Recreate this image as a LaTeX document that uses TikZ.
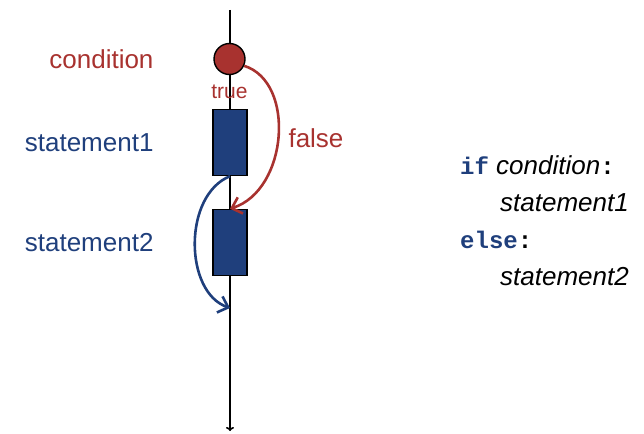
\documentclass[tikz,border=0pt]{standalone}
\usepackage{fontspec}
\setmainfont{Liberation Sans}
\setmonofont{Liberation Mono}
\usetikzlibrary{arrows.meta}
\definecolor{condred}{HTML}{A8322F}
\definecolor{stmtblue}{HTML}{1F3F7C}
\tikzset{
  flow/.style={line width=1.6pt},
  stmtbox/.style={rectangle, draw=black, line width=1.4pt, fill=stmtblue,
    minimum width=34pt, minimum height=66pt, inner sep=0pt},
  condnode/.style={circle, draw=black, line width=1.4pt, fill=condred,
    minimum size=31pt, inner sep=0pt},
  lbl/.style={font=\fontsize{26}{30}\selectfont},
  code/.style={font=\fontsize{26}{30}\selectfont, anchor=base west, inner sep=0pt},
  jump/.style={line width=2.6pt, -{Straight Barb[length=9pt,width=17pt,line width=2.6pt]}},
}
\newcommand{\kwd}[1]{{\fontsize{24}{28}\selectfont\ttfamily\bfseries\color{stmtblue}#1}}
\newcommand{\cln}{{\fontsize{24}{28}\selectfont\ttfamily\bfseries :}}
\begin{document}
\begin{tikzpicture}[x=1pt,y=-1pt]
  \useasboundingbox (0,0) rectangle (644,433);

  % main control-flow line
  \coordinate (top) at (230,10);
  \coordinate (bottom) at (230,431);
  \coordinate (after) at (230,308);
  \draw[flow, -{To[length=4pt,width=8pt]}] (top) -- (bottom);

  % condition and the two statements
  \node[condnode] (cond) at (229.5,59) {};
  \node[stmtbox] (s1) at (230,142.5) {};
  \node[stmtbox] (s2) at (230,242.5) {};

  % labels on the left
  \node[lbl, text=condred, anchor=east] (lcond) at (157,59) {condition};
  \node[lbl, text=stmtblue, anchor=east] (ls1) at (157,143) {statement1};
  \node[lbl, text=stmtblue, anchor=east] (ls2) at (157,243) {statement2};

  % branch labels
  \node[text=condred, font=\fontsize{21}{24}\selectfont] (ltrue) at (229.5,92) {true};
  \node[lbl, text=condred, anchor=west] (lfalse) at (285,138) {false};

  % jumps
  \draw[jump, condred] (cond.-25) .. controls (296,82) and (288,190) .. (s2.north);
  \draw[jump, stmtblue] (s1.south) .. controls (183,195) and (184,292) .. (after);

  % source code
  \node[code] (c1) at (460,174) {\kwd{if} \textit{condition}\cln};
  \node[code] (c2) at (500,211) {\textit{statement1}};
  \node[code] (c3) at (460,248) {\kwd{else}\cln};
  \node[code] (c4) at (500,285) {\textit{statement2}};
\end{tikzpicture}
\end{document}
